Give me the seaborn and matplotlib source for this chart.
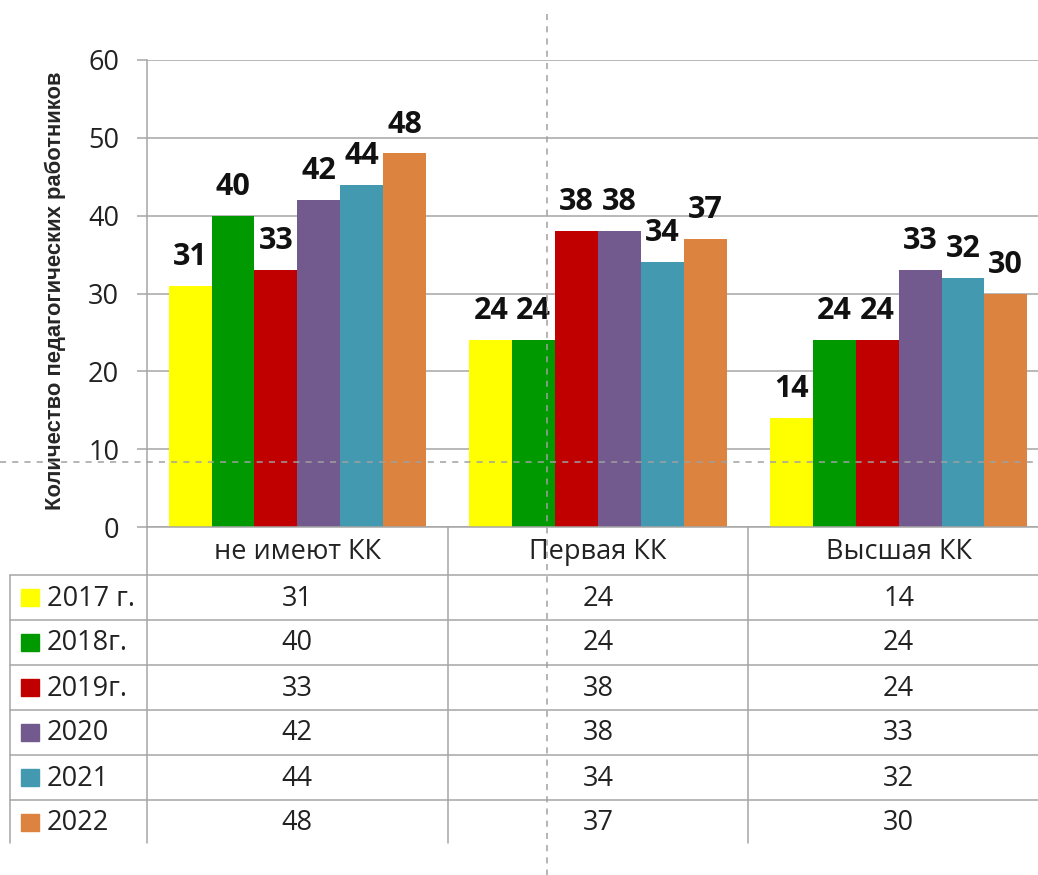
import matplotlib
matplotlib.use("Agg")
import matplotlib.pyplot as plt
import matplotlib.transforms as mtransforms
import pandas as pd
import seaborn as sns

categories = ["не имеют КК", "Первая КК", "Высшая КК"]
years = ["2017 г.", "2018г.", "2019г.", "2020", "2021", "2022"]
v2017 = [31, 24, 14]
v2018 = [40, 24, 24]
v2019 = [33, 38, 24]
v2020 = [42, 38, 33]
v2021 = [44, 34, 32]
v2022 = [48, 37, 30]
colors = ["#FFFF00", "#009900", "#C00000", "#725A8F", "#4299B0", "#DC843F"]
ylabel = "Количество педагогических работников"

series = [v2017, v2018, v2019, v2020, v2021, v2022]
df = pd.DataFrame(
    [(c, y, v) for y, vals in zip(years, series) for c, v in zip(categories, vals)],
    columns=["category", "year", "value"],
)

W, H = 1038, 875
GRID = "#a6a6a6"
TXT = 19.5

sns.set_style("white")
plt.rcParams["font.family"] = ["Open Sans", "DejaVu Sans"]

fig = plt.figure(figsize=(W / 100, H / 100), dpi=100)
# plot area in pixels: left 147, top 60, bottom 527, right edge runs off the picture
ax = fig.add_axes([147 / W, 1 - 527 / H, (1049 - 147) / W, (527 - 60) / H])

sns.barplot(data=df, x="category", y="value", hue="year", palette=colors,
            width=0.855, saturation=1, legend=False, ax=ax, linewidth=0)
ax.set_xlim(-0.5, 2.5)
ax.set_ylim(0, 60)
ax.set_yticks(range(0, 61, 10))
ax.set_xticks([])
ax.set_xlabel("")
ax.set_ylabel("")
ax.yaxis.grid(True, color=GRID, linewidth=1.1)
ax.set_axisbelow(True)
for side in ["top", "right"]:
    ax.spines[side].set_visible(False)
for side in ["left", "bottom"]:
    ax.spines[side].set_color(GRID)
    ax.spines[side].set_linewidth(1.1)
ax.tick_params(axis="y", left=True, length=7, width=1.1, color=GRID, pad=13,
               labelsize=TXT, labelcolor="#222222")

for cont in ax.containers:
    ax.bar_label(cont, padding=10, fontsize=22, fontweight="bold", color="#111111")

fig.text(55 / W, 1 - 291 / H, ylabel, rotation=90, ha="center", va="center",
         fontsize=15.8, fontweight="bold",
         family=["Liberation Sans", "DejaVu Sans"])

# data table below the plot, in pixel coordinates
ax_t = fig.add_axes([0, 0, 1, 1], zorder=5)
ax_t.set_xlim(0, W)
ax_t.set_ylim(H, 0)
ax_t.axis("off")
ax_t.patch.set_alpha(0)
blend = mtransforms.blended_transform_factory(ax.transData, ax_t.transData)

top = 527
header_h = 48
row_h = 45
bottom = 843
row_tops = [top + header_h + i * row_h for i in range(len(years))]

for y in row_tops:
    ax_t.plot([10, W], [y, y], color=GRID, lw=1.1)
ax_t.plot([10, 10], [row_tops[0], bottom], color=GRID, lw=1.1)
for b in [-0.5, 0.5, 1.5]:
    ax_t.plot([b, b], [top, bottom], color=GRID, lw=1.1, transform=blend)

for i, c in enumerate(categories):
    ax_t.text(i, top + header_h / 2 + 1, c, ha="center", va="center",
              fontsize=TXT, color="#222222", transform=blend)

for r, (yr, vals, col) in enumerate(zip(years, series, colors)):
    yc = row_tops[r] + row_h / 2
    ax_t.add_patch(plt.Rectangle((21, yc - 8.5), 18, 17, color=col))
    ax_t.text(47, yc + 1, yr, ha="left", va="center", fontsize=TXT, color="#222222")
    for i, v in enumerate(vals):
        ax_t.text(i, yc + 1, str(v), ha="center", va="center",
                  fontsize=TXT, color="#222222", transform=blend)

# dashed guide lines seen in the screenshot
ax_t.plot([547, 547], [14, H], color="#a0a0a0", lw=1.1, ls=(0, (4, 4)))
ax_t.plot([0, W], [462, 462], color="#a0a0a0", lw=1.1, ls=(0, (4, 4)))

fig.savefig("out.png", dpi=100)
